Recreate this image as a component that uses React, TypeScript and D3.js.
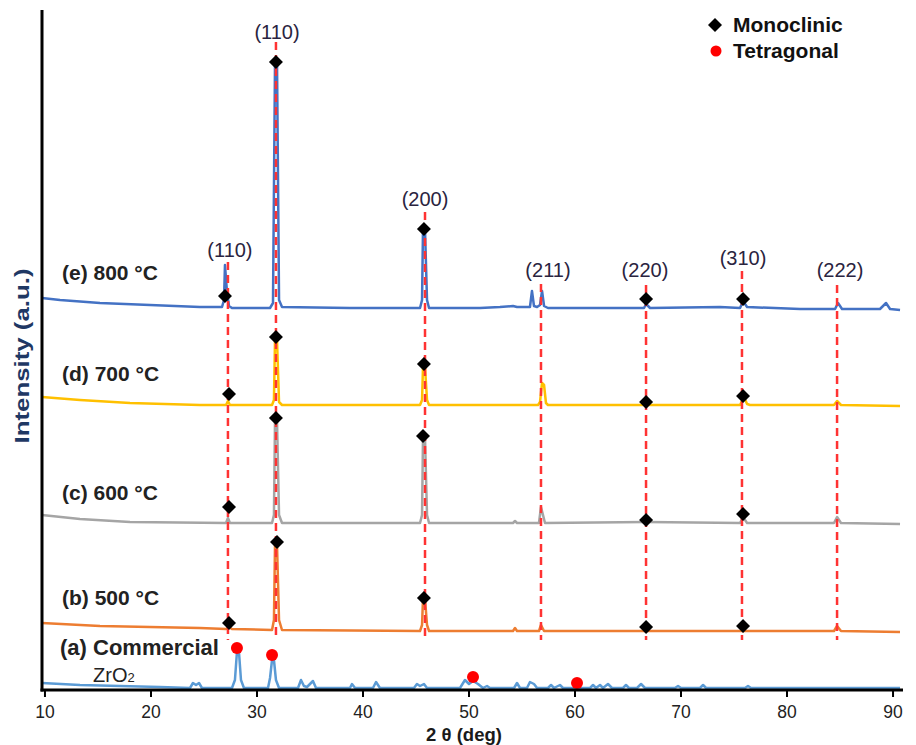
import React from 'react';
import * as d3 from 'd3';

type Pt = [number, number];

// ---------- DATA (2θ in degrees, intensity in a.u. incl. stacking offset) ----------
const TWO_THETA_TICKS = [10, 20, 30, 40, 50, 60, 70, 80, 90];

const SERIES_LABELS = ['(a) Commercial', '(b) 500 °C', '(c) 600 °C', '(d) 700 °C', '(e) 800 °C'];
const SERIES_COLORS = ['#5B9BD5', '#ED7D31', '#A5A5A5', '#FFC000', '#4472C4'];

const patternA: Pt[] = [
  [9.72, 7], [13.3, 5], [17.08, 4], [20.85, 3], [23.68, 2], [23.96, 7], [24.25, 5], [24.53, 7], [24.81, 2],
  [27.64, 2], [27.92, 10], [28.11, 38], [28.3, 38], [28.49, 10], [28.77, 2],
  [31.04, 2], [31.23, 12], [31.42, 30], [31.6, 30], [31.79, 10], [32.08, 2],
  [33.87, 2], [34.15, 10], [34.43, 4], [34.72, 3], [35.28, 9], [35.57, 2],
  [38.77, 2], [38.96, 6], [39.25, 2], [40.94, 2], [41.23, 8], [41.6, 2],
  [44.81, 2], [45.09, 6], [45.38, 4], [45.75, 6], [46.04, 2],
  [49.15, 2], [49.62, 10], [50.0, 6], [50.38, 9], [50.85, 6], [51.32, 2], [51.7, 4], [51.98, 2],
  [54.25, 2], [54.53, 7], [54.81, 2], [55.47, 2], [55.75, 8], [56.13, 6], [56.42, 2],
  [57.45, 2], [57.74, 5], [58.02, 2], [58.58, 5], [58.87, 2],
  [61.42, 2], [61.7, 5], [61.98, 2], [62.36, 5], [62.64, 2], [63.11, 6], [63.49, 2],
  [64.53, 2], [64.81, 5], [65.09, 2], [65.85, 2], [66.23, 6], [66.6, 2],
  [69.43, 2], [69.72, 4], [70.0, 2], [71.79, 2], [72.08, 5], [72.36, 2],
  [76.04, 2], [76.32, 4], [76.6, 2], [90.66, 2],
];

const patternB: Pt[] = [
  [9.72, 67], [15.19, 64], [24.62, 62], [27.08, 61], [27.36, 63], [27.64, 61],
  [31.42, 60], [31.6, 70], [31.7, 145], [31.89, 145], [32.08, 70], [32.36, 60],
  [45.38, 59], [45.57, 65], [45.66, 91], [45.85, 91], [46.04, 65], [46.23, 59],
  [54.15, 59], [54.34, 62], [54.53, 59], [56.6, 59], [56.79, 65], [57.08, 59],
  [84.43, 59], [84.72, 64], [85.09, 59], [90.66, 58],
];

const patternC: Pt[] = [
  [9.72, 175], [13.3, 171], [18.02, 168], [27.08, 167], [27.26, 172], [27.45, 167],
  [31.42, 167], [31.6, 175], [31.7, 269], [31.89, 269], [32.08, 175], [32.36, 167],
  [41.6, 167], [45.38, 167], [45.57, 175], [45.66, 252], [45.85, 252], [46.04, 175], [46.23, 167],
  [54.15, 167], [54.34, 169], [54.53, 167], [56.6, 167], [56.79, 183], [56.98, 175], [57.17, 167],
  [66.7, 168], [75.57, 167], [75.85, 173], [76.23, 167],
  [84.43, 167], [84.72, 173], [85.09, 167], [90.66, 166],
];

const patternD: Pt[] = [
  [9.72, 293], [13.3, 290], [18.02, 287], [24.62, 285], [27.08, 285], [27.26, 289], [27.45, 285],
  [31.42, 285], [31.6, 290], [31.7, 350], [31.89, 350], [32.08, 288], [32.36, 285],
  [45.38, 285], [45.57, 290], [45.66, 323], [45.85, 323], [46.04, 290], [46.23, 285],
  [56.51, 285], [56.7, 288], [56.89, 307], [57.08, 305], [57.26, 287], [57.45, 285],
  [75.57, 285], [75.75, 289], [75.94, 293], [76.23, 286], [76.51, 285],
  [84.43, 285], [84.72, 289], [85.09, 285], [90.66, 284],
];

const patternE: Pt[] = [
  [9.72, 392], [11.42, 390], [15.19, 387], [19.91, 385], [24.62, 383], [26.7, 383],
  [26.89, 390], [26.98, 425], [27.17, 398], [27.36, 384], [27.64, 382],
  [31.23, 382], [31.51, 387], [31.7, 627], [31.89, 627], [32.08, 390], [32.36, 383],
  [38.77, 382], [45.38, 382], [45.57, 390], [45.66, 460], [45.85, 460], [46.04, 390], [46.23, 382],
  [51.04, 382], [52.92, 383], [54.15, 384], [54.53, 383], [55.75, 383], [55.94, 399], [56.13, 384],
  [56.42, 383], [56.7, 385], [56.89, 399], [57.08, 384], [57.45, 382],
  [66.51, 382], [66.7, 386], [67.08, 382], [73.68, 383], [75.57, 382], [75.85, 389], [76.23, 383],
  [81.23, 381], [84.53, 381], [84.81, 387], [85.19, 381], [88.77, 381], [89.34, 387], [89.72, 381], [90.66, 380],
];

const PATTERNS = [patternA, patternB, patternC, patternD, patternE];

// Monoclinic reflection markers per sample (b..e)
const monoclinicMarks: Pt[] = [
  [27.36, 67], [31.89, 148], [45.75, 92], [66.7, 63], [75.85, 64],
  [27.36, 183], [31.79, 272], [45.66, 254], [66.7, 170], [75.85, 176],
  [27.36, 296], [31.79, 353], [45.75, 326], [66.7, 288], [75.85, 294],
  [26.98, 394], [31.79, 628], [45.75, 461], [66.7, 391], [75.85, 391],
];

// Tetragonal markers on commercial ZrO2
const tetragonalMarks: Pt[] = [[28.11, 42], [31.42, 35], [50.38, 13], [60.19, 7]];

// Reflection guide lines (hkl)
const HKL_LABELS = ['(110)', '(110)', '(200)', '(211)', '(220)', '(310)', '(222)'];
const HKL_THETA = [27.26, 31.79, 45.85, 56.79, 66.7, 75.75, 84.72];
const HKL_LINE_TOP = [428, 648, 478, 406, 405, 419, 405];
const HKL_LINE_BOTTOM = 50;
const HKL_LABEL_THETA = [27.45, 31.89, 45.85, 57.45, 66.6, 75.85, 85.0];
const HKL_LABEL_Y = [433, 651, 484, 413, 413, 425, 413];

// ---------- LAYOUT ----------
const W = 916;
const H = 745;
const LEFT = 42;
const RIGHT = 903;
const TOP = 10;
const BOTTOM = 690;
const FONT = '"Liberation Sans", Arial, Helvetica, sans-serif';

const SERIES_LABEL_POS: [number, number][] = [[60, 655], [62, 605], [62, 500], [62, 381], [62, 280]];

export default function App() {
  const x = d3.scaleLinear().domain([9.72, 90.94]).range([LEFT, RIGHT]);
  const y = d3.scaleLinear().domain([0, 680]).range([BOTTOM, TOP]);
  const line = d3
    .line<Pt>()
    .x((d) => x(d[0]))
    .y((d) => y(d[1]));

  const diamond = 'M0,-7L7,0L0,7L-7,0Z';

  return (
    <svg
      width={W}
      height={H}
      style={{ position: 'absolute', left: 0, top: 0, background: '#fff' }}
      fontFamily={FONT}
    >
      <rect x={0} y={0} width={W} height={H} fill="#fff" />

      {/* patterns */}
      {PATTERNS.map((p, i) => (
        <path
          key={i}
          d={line(p) || ''}
          fill="none"
          stroke={SERIES_COLORS[i]}
          strokeWidth={2.5}
          strokeLinejoin="round"
        />
      ))}

      {/* reflection guide lines */}
      {HKL_THETA.map((t, i) => (
        <line
          key={'g' + i}
          x1={x(t)}
          x2={x(t)}
          y1={y(HKL_LINE_TOP[i])}
          y2={y(HKL_LINE_BOTTOM)}
          stroke="#FF3333"
          strokeWidth={2.5}
          strokeDasharray="8,5"
        />
      ))}
      {HKL_LABELS.map((s, i) => (
        <text
          key={'h' + i}
          x={x(HKL_LABEL_THETA[i])}
          y={y(HKL_LABEL_Y[i])}
          textAnchor="middle"
          fontSize={20}
          fill="#2a2440"
        >
          {s}
        </text>
      ))}

      {/* markers */}
      {monoclinicMarks.map((m, i) => (
        <path key={'m' + i} d={diamond} transform={`translate(${x(m[0])},${y(m[1])})`} fill="#000" />
      ))}
      {tetragonalMarks.map((m, i) => (
        <circle key={'t' + i} cx={x(m[0])} cy={y(m[1])} r={6} fill="#FF0000" />
      ))}

      {/* series labels */}
      {SERIES_LABELS.map((s, i) => (
        <text
          key={'s' + i}
          x={SERIES_LABEL_POS[i][0]}
          y={SERIES_LABEL_POS[i][1]}
          fontSize={i === 0 ? 22 : 21}
          fontWeight="bold"
          fill="#222"
        >
          {s}
        </text>
      ))}
      <text x={93} y={682} fontSize={20} fill="#222">
        ZrO<tspan fontSize={13}>2</tspan>
      </text>

      {/* axes */}
      <line x1={LEFT} x2={LEFT} y1={TOP} y2={BOTTOM + 1.5} stroke="#000" strokeWidth={3} />
      <line x1={LEFT - 1.5} x2={RIGHT} y1={BOTTOM} y2={BOTTOM} stroke="#000" strokeWidth={3} />
      {TWO_THETA_TICKS.map((t) => (
        <g key={'x' + t}>
          <line x1={x(t)} x2={x(t)} y1={BOTTOM} y2={BOTTOM + 7} stroke="#000" strokeWidth={2} />
          <text x={x(t)} y={718} textAnchor="middle" fontSize={17.5} fill="#222">
            {t}
          </text>
        </g>
      ))}
      <text x={464} y={741} textAnchor="middle" fontSize={18.5} fontWeight="bold" fill="#1a1a1a">
        2 θ (deg)
      </text>
      <text
        transform={`translate(29,356) rotate(-90)`}
        textAnchor="middle"
        fontSize={21}
        fontWeight="bold"
        fill="#1F3864"
        textLength={175}
        lengthAdjust="spacingAndGlyphs"
      >
        Intensity (a.u.)
      </text>

      {/* legend */}
      <path d={diamond} transform="translate(715,25)" fill="#000" />
      <text x={733} y={32} fontSize={21} fontWeight="bold" fill="#111">
        Monoclinic
      </text>
      <circle cx={716} cy={51} r={5.5} fill="#FF0000" />
      <text x={733} y={58} fontSize={21} fontWeight="bold" fill="#111">
        Tetragonal
      </text>
    </svg>
  );
}
